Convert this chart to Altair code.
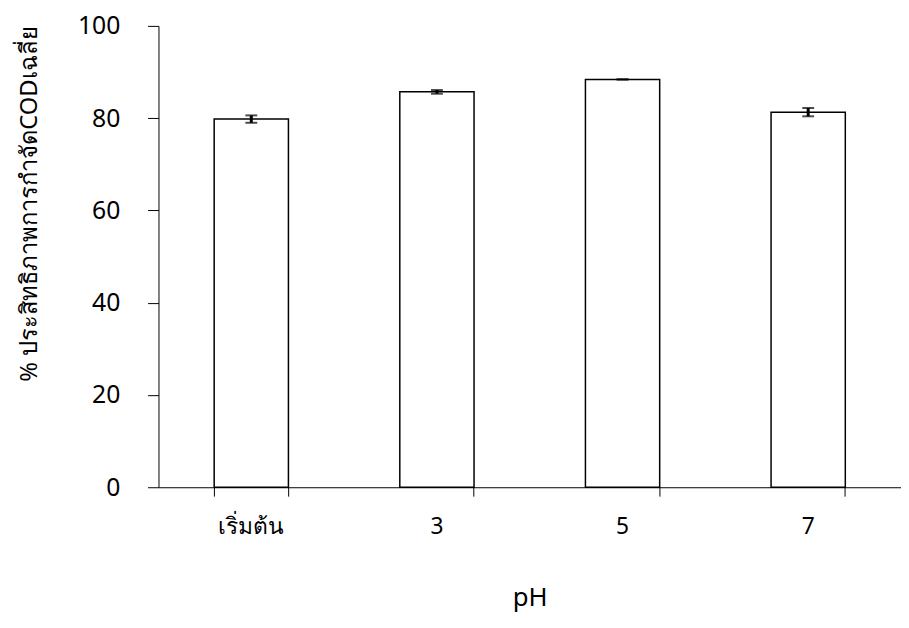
import altair as alt
import pandas as pd

categories = ["เริ่มต้น", "3", "5", "7"]
means = [79.8, 85.7, 88.4, 81.3]
errors = [0.8, 0.4, 0.0, 0.9]

df = pd.DataFrame({"pH": categories, "cod": means, "err": errors})
df["lo"] = df["cod"] - df["err"]
df["hi"] = df["cod"] + df["err"]

FONT = "Tahoma, Noto Sans, DejaVu Sans"

xenc = alt.X(
    "pH:N",
    sort=categories,
    scale=alt.Scale(paddingInner=0.6, paddingOuter=0.3),
    axis=alt.Axis(
        title="pH",
        labelAngle=0,
        bandPosition=1,
        tickExtra=True,
        tickSize=9,
        labelPadding=20,
        titlePadding=46,
        labelFontSize=23,
        titleFontSize=26,
    ),
)

bars = alt.Chart(df).mark_bar(fill="white", stroke="black", strokeWidth=1.5).encode(
    x=xenc,
    y=alt.Y(
        "cod:Q",
        scale=alt.Scale(domain=[0, 100]),
        axis=alt.Axis(
            title="% ประสิทธิภาพการกำจัดCODเฉลี่ย",
            values=[0, 20, 40, 60, 80, 100],
            tickSize=11,
            labelPadding=28,
            titlePadding=36,
            titleAnchor="end",
            labelFontSize=25,
            titleFontSize=24,
        ),
    ),
)

rules = alt.Chart(df).mark_rule(color="black", strokeWidth=3).encode(
    x=alt.X("pH:N", sort=categories), y="lo:Q", y2="hi:Q"
)
caps_hi = alt.Chart(df).mark_tick(color="black", thickness=2, size=12, orient="horizontal").encode(
    x=alt.X("pH:N", sort=categories), y="hi:Q"
)
caps_lo = alt.Chart(df).mark_tick(color="black", thickness=2, size=12, orient="horizontal").encode(
    x=alt.X("pH:N", sort=categories), y="lo:Q"
)

chart = (
    alt.layer(bars, rules, caps_hi, caps_lo)
    .properties(
        width=750,
        height=466,
        autosize=alt.AutoSizeParams(type="none"),
        padding={"left": 152, "top": 15, "right": 0, "bottom": 129},
    )
    .configure_view(stroke=None)
    .configure_axis(
        labelFont=FONT,
        titleFont=FONT,
        labelColor="black",
        titleColor="black",
        titleFontWeight="normal",
        domainColor="black",
        tickColor="black",
        grid=False,
    )
)

chart.save("out.html", embed_options={"renderer": "svg", "actions": False})
